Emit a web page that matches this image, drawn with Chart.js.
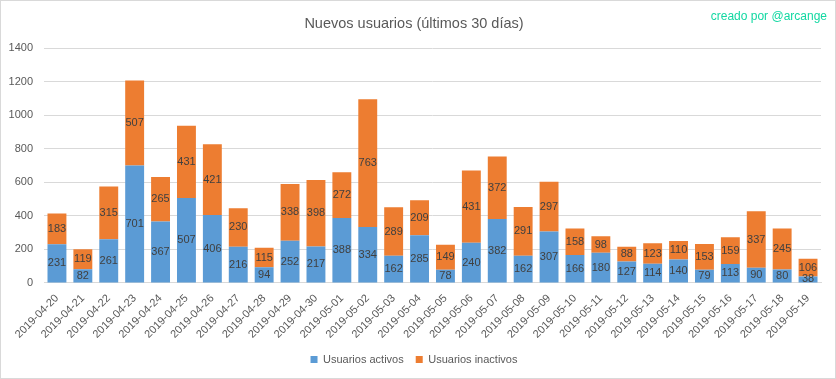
<!DOCTYPE html>
<html>
<head>
<meta charset="utf-8">
<script src="https://cdn.jsdelivr.net/npm/chart.js@4"></script>
<style>
  html, body { margin: 0; padding: 0; background: #fff; }
  #wrap { position: relative; width: 836px; height: 379px; box-sizing: border-box; border: 1px solid #d9d9d9; }
  #firma { position: absolute; right: 8px; top: 8px; font-family: "Liberation Sans", sans-serif; font-size: 12px; color: #12d8a2; }
</style>
</head>
<body>
<div id="wrap">
  <canvas id="usuarioscanvas" width="834" height="377"></canvas>
  <div id="firma">creado por @arcange</div>
</div>
<script>
var fechas = ['2019-04-20','2019-04-21','2019-04-22','2019-04-23','2019-04-24','2019-04-25','2019-04-26','2019-04-27','2019-04-28','2019-04-29','2019-04-30','2019-05-01','2019-05-02','2019-05-03','2019-05-04','2019-05-05','2019-05-06','2019-05-07','2019-05-08','2019-05-09','2019-05-10','2019-05-11','2019-05-12','2019-05-13','2019-05-14','2019-05-15','2019-05-16','2019-05-17','2019-05-18','2019-05-19'];
var activos = [231,82,261,701,367,507,406,216,94,252,217,388,334,162,285,78,240,382,162,307,166,180,127,114,140,79,113,90,80,38];
var inactivos = [183,119,315,507,265,431,421,230,115,338,398,272,763,289,209,149,431,372,291,297,158,98,88,123,110,153,159,337,245,106];
var yTicks = [0,200,400,600,800,1000,1200,1400];

var fuente = "'Liberation Sans', Arial, sans-serif";
var gris = '#595959';

// etiquetas dentro de cada barra
var etiquetas = {
  id: 'etiquetas',
  afterDatasetsDraw: function(chart) {
    var ctx = chart.ctx;
    ctx.save();
    ctx.font = '11px ' + fuente;
    ctx.fillStyle = '#404040';
    ctx.textAlign = 'center';
    ctx.textBaseline = 'middle';
    chart.data.datasets.forEach(function(ds, i) {
      chart.getDatasetMeta(i).data.forEach(function(bar, j) {
        var cy = (bar.y + bar.base) / 2;
        ctx.fillText(ds.data[j], bar.x, cy);
      });
    });
    ctx.restore();
  }
};

var chartdata = {
  labels: fechas,
  datasets: [
    {
      label: 'Usuarios activos',
      backgroundColor: '#5b9bd5',
      data: activos,
      barPercentage: 0.73,
      categoryPercentage: 1
    },
    {
      label: 'Usuarios inactivos',
      backgroundColor: '#ed7d31',
      data: inactivos,
      barPercentage: 0.73,
      categoryPercentage: 1
    }
  ]
};

var ctx = document.getElementById('usuarioscanvas');
var barGraph = new Chart(ctx, {
  type: 'bar',
  data: chartdata,
  plugins: [etiquetas],
  options: {
    responsive: false,
    animation: false,
    layout: { padding: { left: 6, right: 14, top: 4, bottom: 3 } },
    plugins: {
      title: {
        display: true,
        text: 'Nuevos usuarios (últimos 30 días)',
        color: gris,
        font: { family: fuente, size: 14.5, weight: 'normal' },
        padding: { top: 10, bottom: 16 }
      },
      legend: {
        position: 'bottom',
        labels: {
          color: gris,
          font: { family: fuente, size: 11 },
          boxWidth: 7,
          boxHeight: 7,
          padding: 12
        }
      },
      tooltip: { enabled: false }
    },
    scales: {
      x: {
        stacked: true,
        grid: { display: false },
        border: { color: '#d9d9d9' },
        afterFit: function(axis) { axis.paddingLeft = 0; axis.paddingRight = 0; },
        ticks: {
          color: gris,
          font: { family: fuente, size: 11 },
          maxRotation: 45,
          minRotation: 45,
          autoSkip: false,
          padding: 1
        }
      },
      y: {
        stacked: true,
        min: 0,
        max: 1400,
        afterBuildTicks: function(axis) {
          axis.ticks = yTicks.map(function(v) { return { value: v }; });
        },
        afterFit: function(axis) { axis.width = 37; },
        grid: { color: '#d9d9d9', drawTicks: false },
        border: { display: false },
        ticks: {
          color: gris,
          font: { family: fuente, size: 11 },
          padding: 11,
          callback: function(v) { return String(v); }
        }
      }
    }
  }
});
</script>
</body>
</html>
